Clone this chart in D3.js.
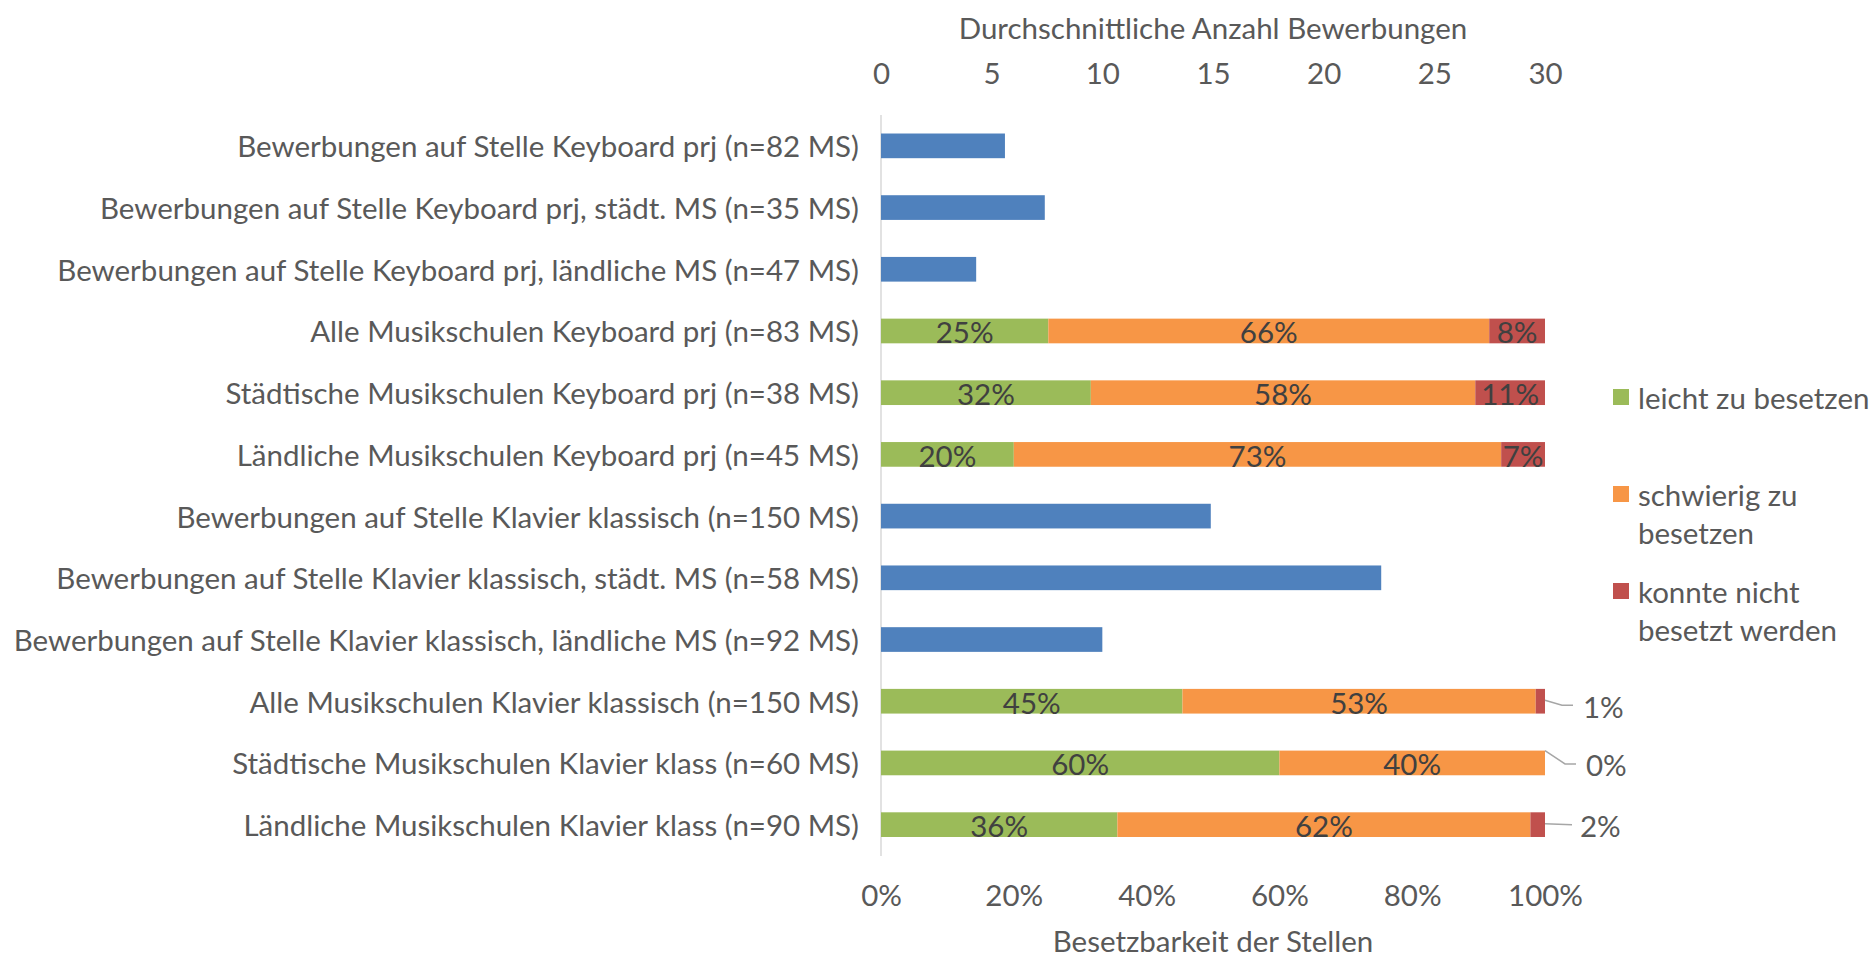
<!DOCTYPE html>
<html><head><meta charset="utf-8">
<script src="https://cdn.jsdelivr.net/npm/d3@7"></script>
<style>
html,body{margin:0;padding:0;background:#fff;}
svg text{font-family:"Lato","Open Sans",sans-serif;}
</style></head>
<body>
<svg id="chart" width="1874" height="959"></svg>
<script>
const categories = [
  "Bewerbungen auf Stelle Keyboard prj (n=82 MS)",
  "Bewerbungen auf Stelle Keyboard prj, städt. MS (n=35 MS)",
  "Bewerbungen auf Stelle Keyboard prj, ländliche MS (n=47 MS)",
  "Alle Musikschulen Keyboard prj (n=83 MS)",
  "Städtische Musikschulen Keyboard prj (n=38 MS)",
  "Ländliche Musikschulen Keyboard prj (n=45 MS)",
  "Bewerbungen auf Stelle Klavier klassisch (n=150 MS)",
  "Bewerbungen auf Stelle Klavier klassisch, städt. MS (n=58 MS)",
  "Bewerbungen auf Stelle Klavier klassisch, ländliche MS (n=92 MS)",
  "Alle Musikschulen Klavier klassisch (n=150 MS)",
  "Städtische Musikschulen Klavier klass (n=60 MS)",
  "Ländliche Musikschulen Klavier klass (n=90 MS)"
];
const applications = [5.6, 7.4, 4.3, null, null, null, 14.9, 22.6, 10.0, null, null, null];
const easy   = [null, null, null, 25.2, 31.6, 20.0, null, null, null, 45.4, 60.0, 35.6];
const hard   = [null, null, null, 66.4, 57.9, 73.4, null, null, null, 53.2, 40.0, 62.2];
const failed = [null, null, null, 8.4, 10.5, 6.6, null, null, null, 1.4, 0.0, 2.2];
const countTicks = [0, 5, 10, 15, 20, 25, 30];
const pctTicks = [0, 20, 40, 60, 80, 100];
const seriesNames = ["leicht zu besetzen", "schwierig zu besetzen", "konnte nicht besetzt werden"];
const legendLines = [["leicht zu besetzen"], ["schwierig zu", "besetzen"], ["konnte nicht", "besetzt werden"]];
const colors = {apps:"#4F81BD", easy:"#9BBB59", hard:"#F79646", failed:"#C0504D"};

const svg = d3.select("#chart");
const FS = 29.5;
const textCol = "#595959";
const x0 = d3.scaleLinear().domain([0, 30]).range([881, 1545]);
const xp = d3.scaleLinear().domain([0, 100]).range([881, 1545]);
const y = d3.scaleBand().domain(categories).range([115, 855.5]).paddingInner(0.6).paddingOuter(0.3);

// vertical axis line
svg.append("line").attr("x1", 881).attr("x2", 881).attr("y1", 115).attr("y2", 856)
  .attr("stroke", "#D9D9D9").attr("stroke-width", 1.5);

// category labels
svg.append("g").selectAll("text").data(categories).join("text")
  .attr("x", 859).attr("y", d => y(d) + y.bandwidth()/2)
  .attr("text-anchor", "end").attr("dominant-baseline", "central")
  .attr("fill", textCol).attr("font-size", FS).text(d => d);

// top axis
const topAxis = svg.append("g").attr("transform", "translate(0,84)")
  .call(d3.axisTop(x0).tickValues(countTicks).tickSize(0).tickPadding(0));
topAxis.select(".domain").remove();
topAxis.selectAll("text").attr("font-size", FS).attr("fill", textCol)
  .attr("font-family", "Lato,'Open Sans',sans-serif").attr("dy", 0);

// bottom axis
const botAxis = svg.append("g").attr("transform", "translate(0,885)")
  .call(d3.axisBottom(xp).tickValues(pctTicks).tickFormat(d => d + "%").tickSize(0).tickPadding(0));
botAxis.select(".domain").remove();
botAxis.selectAll("text").attr("font-size", FS).attr("fill", textCol)
  .attr("font-family", "Lato,'Open Sans',sans-serif").attr("dy", "0.71em");

// axis titles
svg.append("text").attr("x", 1213).attr("y", 27).attr("text-anchor", "middle")
  .attr("dominant-baseline", "central").attr("font-size", FS).attr("fill", textCol)
  .text("Durchschnittliche Anzahl Bewerbungen");
svg.append("text").attr("x", 1213).attr("y", 940).attr("text-anchor", "middle")
  .attr("dominant-baseline", "central").attr("font-size", FS).attr("fill", textCol)
  .text("Besetzbarkeit der Stellen");

// blue bars
const appRows = categories.map((c, i) => ({c, v: applications[i]})).filter(d => d.v != null);
svg.append("g").selectAll("rect").data(appRows).join("rect")
  .attr("x", x0(0)).attr("y", d => y(d.c)).attr("width", d => x0(d.v) - x0(0))
  .attr("height", y.bandwidth()).attr("fill", colors.apps);

// stacked bars
const stackRows = categories.map((c, i) => ({c, easy: easy[i], hard: hard[i], failed: failed[i]}))
  .filter(d => d.easy != null);
const keys = ["easy", "hard", "failed"];
const stacked = d3.stack().keys(keys)(stackRows);
const gStack = svg.append("g");
stacked.forEach(layer => {
  gStack.append("g").selectAll("rect").data(layer).join("rect")
    .attr("x", d => xp(d[0])).attr("y", d => y(d.data.c))
    .attr("width", d => xp(d[1]) - xp(d[0])).attr("height", y.bandwidth())
    .attr("fill", colors[layer.key]);
});
// in-bar labels
stacked.forEach(layer => {
  gStack.append("g").selectAll("text")
    .data(layer.filter(d => (d[1] - d[0]) >= 5))
    .join("text")
    .attr("x", d => (xp(d[0]) + xp(d[1])) / 2).attr("y", d => y(d.data.c) + y.bandwidth()/2 + 1)
    .attr("text-anchor", "middle").attr("dominant-baseline", "central")
    .attr("font-size", FS).attr("fill", "#404040")
    .text(d => Math.round(d[1] - d[0]) + "%");
});
// small red labels with leader lines
const small = stacked[2].filter(d => (d[1] - d[0]) < 5);
const leaderStyle = [
  {startTop: false, dy: 4, bend: 17, tail: 11, lx: 38},
  {startTop: true,  dy: 1, bend: 20, tail: 11, lx: 41},
  {startTop: false, dy: 0, bend: 0,  tail: 27, lx: 35}
];
small.forEach((d, i) => {
  const cy = y(d.data.c) + y.bandwidth()/2;
  const x1 = xp(100);
  const o = leaderStyle[i];
  const yStart = o.startTop ? y(d.data.c) : cy - 1;
  const path = d3.path();
  path.moveTo(x1, yStart);
  if (o.bend > 0) path.lineTo(x1 + o.bend, cy + o.dy);
  path.lineTo(x1 + o.bend + o.tail, cy + o.dy);
  gStack.append("path").attr("d", path.toString()).attr("fill", "none")
    .attr("stroke", "#A6A6A6").attr("stroke-width", 1.5);
  gStack.append("text").attr("x", x1 + o.lx).attr("y", cy + o.dy + 1)
    .attr("dominant-baseline", "central").attr("font-size", FS).attr("fill", textCol)
    .text(Math.round(d[1] - d[0]) + "%");
});

// legend
const legendY = [397, 494, 591];
const lg = svg.append("g");
legendLines.forEach((lines, i) => {
  const key = keys[i];
  lg.append("rect").attr("x", 1613).attr("y", legendY[i] - 8).attr("width", 16).attr("height", 16)
    .attr("fill", colors[key]);
  lines.forEach((t, j) => {
    lg.append("text").attr("x", 1638).attr("y", legendY[i] + j * 38)
      .attr("dominant-baseline", "central").attr("font-size", FS).attr("fill", textCol).text(t);
  });
});
</script>
</body></html>
